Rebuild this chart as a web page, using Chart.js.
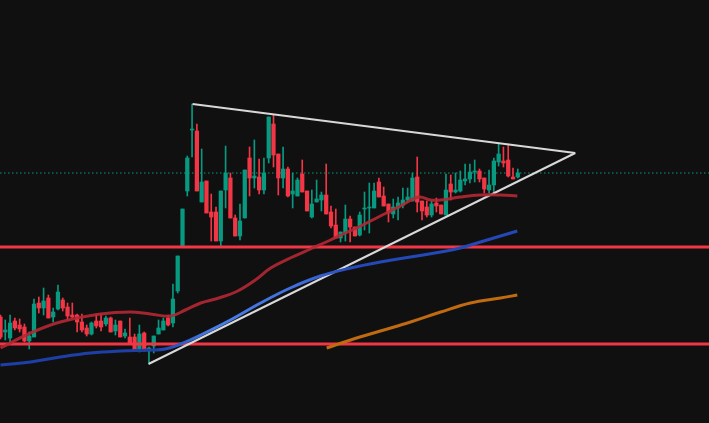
<!DOCTYPE html>
<html><head><meta charset="utf-8">
<script src="https://cdn.jsdelivr.net/npm/chart.js@4.4.0/dist/chart.umd.min.js"></script>
<style>html,body{margin:0;padding:0;background:#101010;}#w{width:709px;height:423px;}</style>
</head><body><div id="w"><canvas id="c"></canvas></div>
<script>
// Price values (chart units; the y axis is inverted so larger = lower on screen)
const opens  = [317,332,338,321,325,327,341,337,303,308,298,317,309,300,307,315,315,322,328,334,321,321,324,318,331,321,336,337,337,351,333,351,346,334,330,318,323,291,
246,191,130,131,202,181,212,212,241,190,178,218,236,218,158,178,177,190,158,124,154,178,169,194,196,174,191,217,202,200,195,212,225,
238,233,219,227,235,209,208,208,182,196,204,214,208,205,200,201,177,201,207,215,203,205,215,184,192,191,181,179,172,171,178,190,185,162,161,160,177,177];
const closes = [337,330,323,328,329,341,336,304,308,301,318,312,292,308,316,317,322,330,334,323,326,327,318,332,325,337,333,343,351,334,351,348,336,328,321,325,299,256,
209,158,129,191,182,213,217,241,191,173,218,236,221,170,178,176,190,173,117,155,178,169,196,191,180,192,211,204,199,195,214,226,238,
232,219,227,236,215,208,207,191,197,206,213,207,203,200,197,178,202,211,215,204,206,214,190,192,190,180,179,172,171,179,189,185,161,154,163,176,179,173];
const highs  = [315,320,315,318,319,324,332,299,297,288,295,308,285,298,303,303,314,314,325,322,314,314,316,317,320,321,329,318,334,325,332,347,336,320,318,315,284,256,
209,156,104,124,149,181,194,207,191,146,173,215,204,170,147,140,159,158,117,115,154,147,167,173,178,160,191,190,180,192,164,206,209,
232,205,216,227,212,192,183,183,178,187,204,199,197,188,188,173,157,201,201,201,198,205,174,175,173,171,164,164,160,169,178,170,158,143,147,144,168,169];
const lows   = [339,340,342,330,332,342,349,337,313,315,318,322,310,311,320,318,332,332,336,335,328,331,326,332,335,337,338,344,351,352,351,363,353,334,330,326,327,293,
246,196,157,191,202,213,241,241,247,208,218,236,240,218,196,188,194,194,163,167,195,188,197,208,196,192,211,218,202,211,214,228,238,
242,241,242,236,236,230,233,208,197,206,222,218,220,208,202,201,212,220,217,217,212,214,215,200,193,192,185,183,182,182,193,193,195,166,167,177,179,178];

const hLevels = [247, 344];
const dottedLevel = 173;
const triUpper = [{x:40.1,y:104},{x:120.0,y:153}];
const triLower = [{x:30.9,y:364},{x:120.0,y:153}];
const maRed = [[0,348],[6.3,333],[12.5,322],[20.9,314],[27.1,312],[31.3,314],[35.5,316],[38.6,310],[41.8,303],[44.9,299],[49.1,292],[53.2,280],[56.4,268],[60.5,258],[64.7,249],[68.9,240],[72,233],[75.2,226],[79.3,216],[83.5,206],[87.3,197],[89.8,200],[91.9,200],[96,197],[100.2,195],[104.4,195],[107.9,196]];
const maBlue = [[0,365],[6.3,362],[12.5,357],[18.8,353],[25.1,351],[31.3,350],[34.4,349],[37.6,344],[41.8,335],[48,320],[54.3,303],[60.5,288],[66.8,276],[73.1,268],[79.3,262],[85.6,257],[91.9,252],[96,248],[100.2,242],[104.4,236],[107.9,231]];
const maOrange = [[68.1,348],[73.1,340],[79.3,331],[85.6,322],[91.9,312],[98.1,303],[104.4,298],[107.9,295]];

const UP='#089981', DN='#f23645';
const idx = opens.map((_,i)=>i);
const bodies = idx.map(i=>({x:i,y:[opens[i], closes[i]===opens[i]?closes[i]+1:closes[i]]}));
const wicks = idx.map(i=>({x:i,y:[highs[i],lows[i]]}));
const cols = idx.map(i=>closes[i]<opens[i]?UP:DN);
const XMIN=-0.1, XMAX=709/4.79-0.1;
const pts = a=>a.map(p=>({x:p[0],y:p[1]}));
const lineDs = (data,color,w,extra)=>Object.assign({type:'line',data,borderColor:color,borderWidth:w,pointRadius:0,fill:false,tension:0.4,order:0},extra||{});

new Chart(document.getElementById('c'),{
  type:'bar',
  data:{datasets:[
    lineDs([{x:XMIN,y:dottedLevel},{x:XMAX,y:dottedLevel}],'#089981',1,{borderDash:[1.5,2.5],tension:0,order:5}),
    {type:'bar',data:wicks,backgroundColor:cols,barThickness:1,grouped:false,order:3},
    {type:'bar',data:bodies,backgroundColor:cols,barThickness:3.6,grouped:false,order:2},
    lineDs(pts(maRed),'rgba(178,40,52,0.9)',3),
    lineDs(pts(maBlue),ctx=>{const {chart}=ctx;const a=chart.chartArea;if(!a)return '#1f3fa8';const g=chart.ctx.createLinearGradient(0,0,709,0);g.addColorStop(0,'#1f3fa8');g.addColorStop(0.22,'#1f3fa8');g.addColorStop(0.3,'#4a7ee8');g.addColorStop(0.42,'#3f6fdc');g.addColorStop(0.5,'#2448b8');g.addColorStop(1,'#2448b8');return g;},3),
    lineDs(pts(maOrange),'#c06a12',3),
    lineDs(triUpper,'#d8d8d8',2,{tension:0}),
    lineDs(triLower,'#d8d8d8',2,{tension:0}),
    lineDs([{x:XMIN,y:hLevels[0]},{x:XMAX,y:hLevels[0]}],'#f23645',3,{tension:0}),
    lineDs([{x:XMIN,y:hLevels[1]},{x:XMAX,y:hLevels[1]}],'#f23645',3,{tension:0})
  ]},
  options:{
    responsive:true,maintainAspectRatio:false,animation:false,
    layout:{padding:0},
    plugins:{legend:{display:false},tooltip:{enabled:false}},
    scales:{
      x:{type:'linear',min:XMIN,max:XMAX,display:false,offset:false},
      y:{min:0,max:423,reverse:true,display:false}
    }
  }
});
</script></body></html>
